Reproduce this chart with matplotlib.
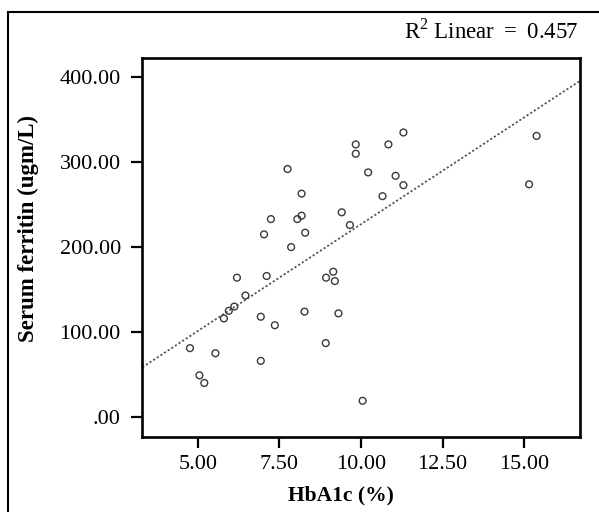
import numpy as np
import matplotlib
matplotlib.use("Agg")
import matplotlib.pyplot as plt
from matplotlib.patches import Rectangle

# HbA1c (%) 与 血清铁蛋白 (ugm/L) 散点数据
hba1c = [4.76, 5.05, 5.20, 5.54, 5.80, 5.95, 6.12, 6.20, 6.46, 6.93,
         6.93, 7.03, 7.11, 7.24, 7.36, 7.75, 7.86, 8.05, 8.18, 8.18,
         8.29, 8.27, 8.92, 8.93, 9.15, 9.20, 9.31, 9.41, 9.66, 9.84,
         9.84, 10.05, 10.22, 10.66, 10.84, 11.06, 11.30, 11.30, 15.15, 15.38]
ferritin = [81, 49, 40, 75, 116, 125, 130, 164, 143, 118,
            66, 215, 166, 233, 108, 292, 200, 233, 237, 263,
            217, 124, 87, 164, 171, 160, 122, 241, 226, 321,
            310, 19, 288, 260, 321, 284, 335, 273, 274, 331]

x_ticks = [5.0, 7.5, 10.0, 12.5, 15.0]
x_ticklabels = ["5.00", "7.50", "10.00", "12.50", "15.00"]
y_ticks = [0, 100, 200, 300, 400]
y_ticklabels = [".00", "100.00", "200.00", "300.00", "400.00"]
r2_text = "R$^{\\mathrm{2}}$ Linear $=$ 0.457"

plt.rcParams["font.family"] = ["Liberation Serif", "DejaVu Serif"]
plt.rcParams["mathtext.fontset"] = "custom"
plt.rcParams["mathtext.rm"] = "Liberation Serif"

fig = plt.figure(figsize=(5.99, 5.12), dpi=100)
ax = fig.add_axes([142.3 / 599, 1 - 436.7 / 512, (580 - 142.3) / 599, (436.7 - 58.3) / 512])

# 散点
ax.scatter(hba1c, ferritin, s=24, facecolors="none", edgecolors="#3a3a3a", linewidths=1.0, zorder=3)

# 线性拟合线
xmin, xmax = 3.30, 16.71
coef = np.polyfit(hba1c, ferritin, 1)
xs = np.array([xmin, xmax])
ax.plot(xs, np.polyval(coef, xs), linestyle=(0, (1.2, 1.2)), color="#555555", linewidth=1.3, zorder=2)

ax.set_xlim(xmin, xmax)
ax.set_ylim(-23.3, 422.4)
ax.set_xticks(x_ticks)
ax.set_xticklabels(x_ticklabels)
ax.set_yticks(y_ticks)
ax.set_yticklabels(y_ticklabels)
ax.tick_params(direction="out", length=8, width=1.6, labelsize=16, pad=5, colors="black")
ax.tick_params(axis="y", pad=7.5)
for sp in ax.spines.values():
    sp.set_linewidth(1.9)
    sp.set_color("black")

# 坐标轴标题
fig.text(341 / 599, 1 - 495 / 512, "HbA1c (%)", ha="center", va="center", fontsize=15.5, fontweight="bold")
fig.text(28 / 599, 1 - 229 / 512, "Serum ferritin (ugm/L)", ha="center", va="center",
         rotation=90, fontsize=16.5, fontweight="bold")
fig.text(578 / 599, 1 - 38.5 / 512, r2_text, ha="right", va="baseline", fontsize=16.5)

# 外框
fig.patches.append(Rectangle((8 / 599, -0.2), 1.2, 1.2 - 12 / 512, transform=fig.transFigure,
                             fill=False, edgecolor="black", linewidth=1.5))

fig.savefig("out.png", dpi=100)
